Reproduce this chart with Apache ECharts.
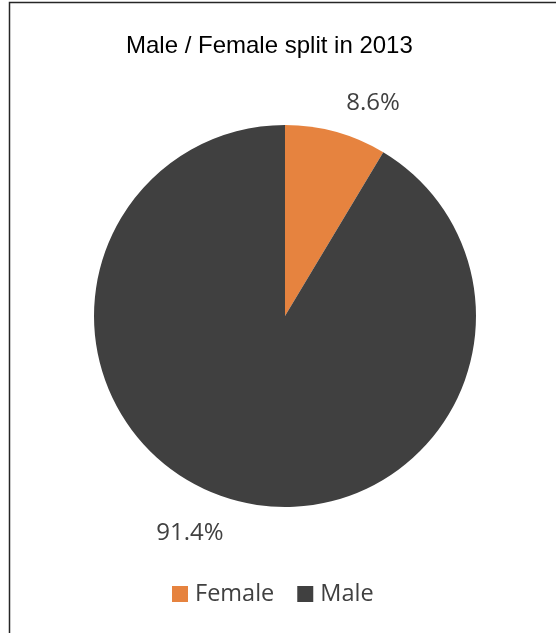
<!DOCTYPE html>
<html>
<head>
<meta charset="utf-8">
<script src="https://cdn.jsdelivr.net/npm/echarts@6/dist/echarts.min.js"></script>
<style>
  html, body { margin: 0; padding: 0; background: #fff; }
  #chart { width: 556px; height: 633px; }
</style>
</head>
<body>
<div id="chart"></div>
<script>
// Gender split, percent of total
const categories = ['Female', 'Male'];
const shares = [8.6, 91.4];
const colors = ['#E6833F', '#404040'];

const chart = echarts.init(document.getElementById('chart'), null, { renderer: 'canvas' });

chart.setOption({
  backgroundColor: '#ffffff',
  animation: false,
  graphic: [{
    type: 'rect',
    shape: { x: 9.5, y: 2.5, width: 700, height: 800 },
    style: { fill: 'none', stroke: '#262626', lineWidth: 1.5 },
    silent: true
  }],
  title: {
    text: 'Male / Female split in 2013',
    left: 121,
    top: 29,
    textStyle: { fontFamily: 'Liberation Sans', fontSize: 24, fontWeight: 'normal', color: '#000' }
  },
  legend: {
    bottom: 22,
    left: 167,
    padding: 5,
    itemWidth: 16,
    itemHeight: 16,
    itemGap: 23,
    icon: 'rect',
    textStyle: { fontFamily: 'Open Sans', fontSize: 23.5, color: '#404040', padding: [0, 0, 0, 2] },
    data: categories
  },
  series: [{
    type: 'pie',
    center: [285, 316],
    radius: [0, 191],
    startAngle: 90,
    clockwise: true,
    data: categories.map((c, i) => ({ name: c, value: shares[i], itemStyle: { color: colors[i] } })),
    label: {
      show: true,
      position: 'outside',
      formatter: p => p.value.toFixed(1) + '%',
      fontFamily: 'Open Sans',
      fontSize: 24,
      color: '#404040'
    },
    labelLine: { show: false, length: 20, length2: 0 },
    labelLayout: p => ({ dy: p.dataIndex === 0 ? -9 : 14 })
  }]
});
</script>
</body>
</html>
